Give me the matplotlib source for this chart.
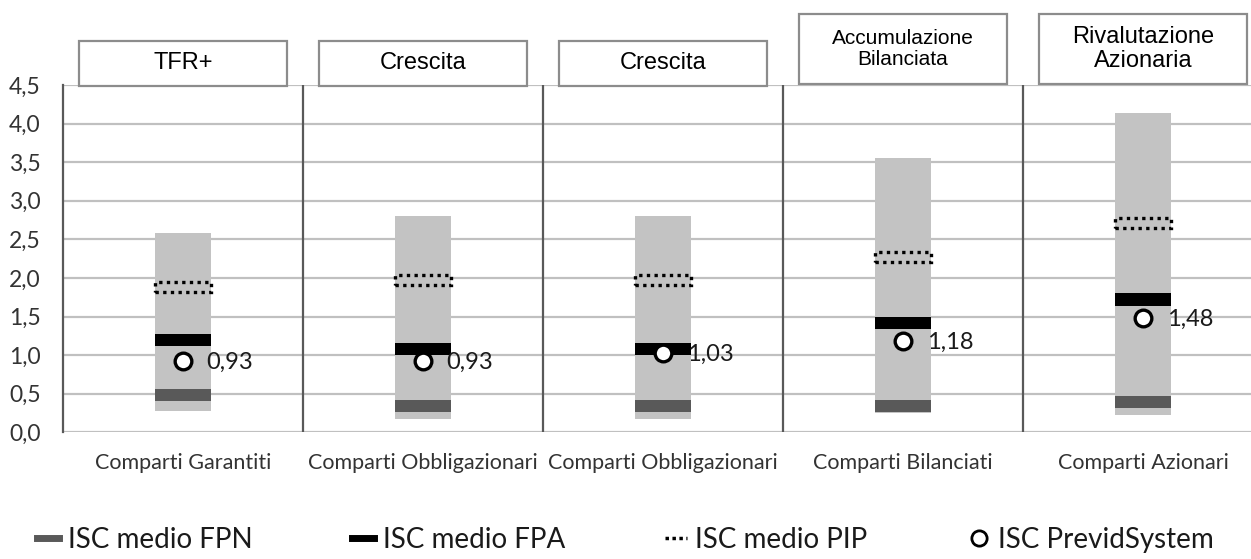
import numpy as np
import matplotlib
matplotlib.use('Agg')
from matplotlib import pyplot as plt
from matplotlib.lines import Line2D
from matplotlib.patches import Rectangle
from matplotlib.transforms import blended_transform_factory

categories = ['Comparti Garantiti', 'Comparti Obbligazionari', 'Comparti Obbligazionari',
              'Comparti Bilanciati', 'Comparti Azionari']
fund_names = ['TFR+', 'Crescita', 'Crescita', 'Accumulazione\nBilanciata', 'Rivalutazione\nAzionaria']
range_low = [0.28, 0.17, 0.17, 0.25, 0.22]
range_high = [2.58, 2.80, 2.80, 3.55, 4.13]
isc_fpn = [0.48, 0.34, 0.34, 0.34, 0.39]
isc_fpa = [1.20, 1.08, 1.08, 1.42, 1.72]
isc_pip = [1.88, 1.97, 1.97, 2.27, 2.71]
isc_previd = [0.93, 0.93, 1.03, 1.18, 1.48]
yticks = np.arange(0, 4.51, 0.5)

plt.rcParams['font.family'] = ['Lato', 'DejaVu Sans']

x = np.arange(len(categories))
bar_w = 0.233
band_h = 0.16

fig = plt.figure(figsize=(12.51, 5.59), dpi=100)
ax = fig.add_axes([63 / 1251, 0.2266, 1200 / 1251, 0.6215])

# range bars
ax.bar(x, np.array(range_high) - np.array(range_low), bottom=range_low, width=bar_w,
       color='#c3c3c3', zorder=2)
# FPN / FPA bands
ax.bar(x, band_h, bottom=np.array(isc_fpn) - band_h / 2, width=bar_w, color='#595959', zorder=3)
ax.bar(x, band_h, bottom=np.array(isc_fpa) - band_h / 2, width=bar_w, color='black', zorder=3)
# PIP dotted boxes
ax.bar(x, band_h * 0.85, bottom=np.array(isc_pip) - band_h * 0.85 / 2, width=bar_w,
       fill=False, edgecolor='black', linewidth=2.4, linestyle=(0, (1.0, 1.3)), zorder=4)
# PrevidSystem points
ax.plot(x, isc_previd, 'o', ms=12, mfc='white', mec='black', mew=2.4, ls='none', zorder=5)
for xi, v in zip(x, isc_previd):
    ax.annotate(f'{v:.2f}'.replace('.', ','), (xi, v), xytext=(17, -1), textcoords='offset points',
                ha='left', va='center', fontsize=17, color='#1a1a1a', zorder=6)

ax.set_xlim(-0.5, len(categories) - 0.5)
ax.set_ylim(0, 4.5)
ax.set_yticks(yticks)
ax.set_yticklabels([f'{t:.1f}'.replace('.', ',') for t in yticks])
ax.set_xticks(x)
ax.set_xticklabels(categories)
ax.tick_params(axis='y', length=0, pad=16, labelsize=16.5, labelcolor='#333333')
ax.tick_params(axis='x', length=0, pad=15, labelsize=15.5, labelcolor='#333333')
ax.grid(axis='y', color='#c0c0c0', lw=1.6, zorder=0)
ax.set_axisbelow(True)
for s in ['top', 'right', 'bottom']:
    ax.spines[s].set_visible(False)
ax.spines['left'].set_color('#595959')
ax.spines['left'].set_linewidth(1.6)
for b in x[:-1] + 0.5:
    ax.axvline(b, color='#595959', lw=1.6, zorder=1)

# fund name boxes above the plot
trans = blended_transform_factory(ax.transData, fig.transFigure)
box_w = 0.867
for i, name in enumerate(fund_names):
    two_lines = '\n' in name
    y0, y1 = (0.8497, 0.975) if two_lines else (0.8462, 0.9267)
    ax.add_patch(Rectangle((x[i] - box_w / 2, y0), box_w, y1 - y0, transform=trans,
                           facecolor='white', edgecolor='#8c8c8c', lw=1.6, clip_on=False, zorder=10))
    fs = 15 if name.startswith('Accum') else 17
    ax.text(x[i], (y0 + y1) / 2, name, transform=trans, ha='center', va='center',
            fontsize=fs, family='Liberation Sans', linespacing=1.1, zorder=11)

handles = [Line2D([], [], color='#595959', lw=5),
           Line2D([], [], color='black', lw=5),
           Line2D([], [], color='black', lw=2.5, ls=(0, (1, 1))),
           Line2D([], [], marker='o', ms=11, mfc='white', mec='black', mew=2, ls='none')]
labels = ['ISC medio FPN', 'ISC medio FPA', 'ISC medio PIP', 'ISC PrevidSystem']
fig.legend(handles, labels, loc='center', bbox_to_anchor=(0.5, 0.034), ncol=4, frameon=False,
           fontsize=20, handlelength=0.8, handletextpad=0.3, columnspacing=3.6,
           labelcolor='#1a1a1a')

fig.savefig('out.png', dpi=100)
